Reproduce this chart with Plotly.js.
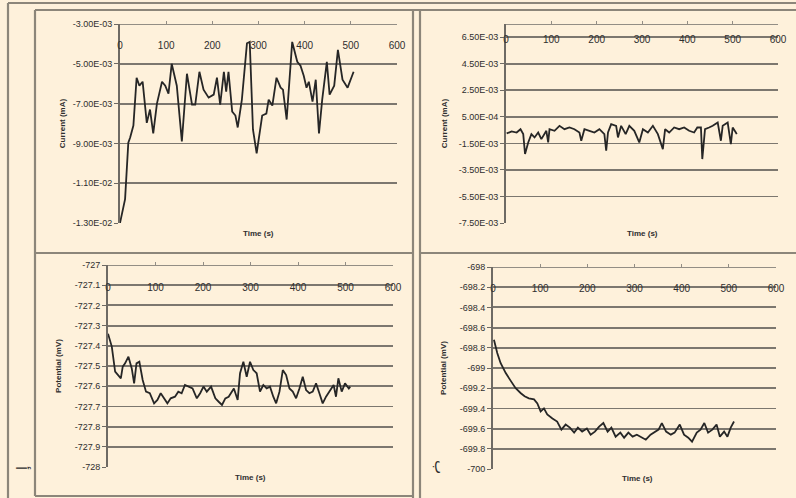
<!DOCTYPE html>
<html><head><meta charset="utf-8">
<script src="https://cdn.plot.ly/plotly-3.0.1.min.js"></script>
<style>html,body{margin:0;padding:0;background:#FEF1DB}#c{width:796px;height:498px}</style>
</head><body><div id="c"></div>
<script>
// Top-left: current (mA) vs time (s)
const tlTime = [0,11,18,22,29,36,42,49,58,65,72,80,91,98,105,112,123,134,145,156,163,172,181,192,203,210,217,225,230,235,243,250,255,264,275,281,288,296,308,317,322,330,339,348,353,361,373,384,391,398,404,409,417,424,431,438,448,454,464,472,482,493,506];
const tlCurrent = [-0.0130,-0.0118,-0.00897,-0.0087,-0.0081,-0.0057,-0.0061,-0.0059,-0.00797,-0.0073,-0.0085,-0.0070,-0.0059,-0.0061,-0.0065,-0.0050,-0.0061,-0.0089,-0.0055,-0.00705,-0.00705,-0.0054,-0.0063,-0.0067,-0.00655,-0.0057,-0.00705,-0.0054,-0.0064,-0.0054,-0.0074,-0.0076,-0.0082,-0.0068,-0.00397,-0.0039,-0.0083,-0.0095,-0.0076,-0.0075,-0.0068,-0.0071,-0.0057,-0.0062,-0.0063,-0.0078,-0.0039,-0.0049,-0.0051,-0.0056,-0.0062,-0.0059,-0.0069,-0.0058,-0.0085,-0.0068,-0.0049,-0.00655,-0.0061,-0.0043,-0.0058,-0.0062,-0.0054];

// Top-right: current (mA) vs time (s)
const trTime = [1.5,12.5,23.5,32,38,42,49,56,63,71,78,89,93,96,107,118,129,140,151,162,166,173,184,195,206,217,221,225,232,243,247,254,264,272,283,294,302,313,324,335,346,351,360,371,382,393,404,415,422,430,433,439,448,456,467,474,478,489,496,500,507,509];
const trCurrent = [-0.00075,-0.0006,-0.00068,-0.00043,-0.0008,-0.0023,-0.00143,-0.0008,-0.00105,-0.00068,-0.00118,-0.00055,-0.00143,-0.00043,-0.00055,-0.000175,-0.00043,-0.0003,-0.00043,-0.00068,-0.0013,-0.00043,-0.00055,-0.00068,-0.00043,-0.0008,-0.00205,-0.00068,-0.00005,-0.000175,-0.00105,-0.000175,-0.0008,-0.000175,-0.00055,-0.00143,-0.00043,-0.00068,-0.000175,-0.0008,-0.00193,-0.00043,-0.00068,-0.0003,-0.00043,-0.0003,-0.00055,-0.00068,-0.0003,-0.0003,-0.00268,-0.00043,-0.0003,-0.000175,0.000075,-0.0013,-0.000175,0.000075,-0.00155,-0.0003,-0.00068,-0.0008];

// Bottom-left: potential (mV) vs time (s)
const blTime = [0,8,15,22,27,31,36,43,50,55,60,66,73,80,88,97,104,111,118,125,132,141,148,155,162,169,178,187,194,201,208,217,226,233,240,247,254,265,273,278,285,292,299,306,313,320,327,334,341,348,354,361,368,375,382,389,396,403,410,417,424,431,438,445,452,459,468,475,480,485,492,499,507,510];
const blPotential = [-727.34,-727.404,-727.528,-727.545,-727.561,-727.503,-727.487,-727.454,-727.512,-727.586,-727.487,-727.479,-727.569,-727.627,-727.635,-727.685,-727.668,-727.635,-727.66,-727.685,-727.66,-727.652,-727.627,-727.635,-727.594,-727.602,-727.611,-727.66,-727.635,-727.602,-727.627,-727.602,-727.66,-727.677,-727.693,-727.66,-727.652,-727.611,-727.668,-727.536,-727.479,-727.553,-727.479,-727.52,-727.536,-727.627,-727.594,-727.611,-727.602,-727.652,-727.685,-727.627,-727.52,-727.545,-727.611,-727.627,-727.66,-727.611,-727.553,-727.619,-727.635,-727.627,-727.586,-727.635,-727.685,-727.652,-727.619,-727.594,-727.652,-727.561,-727.627,-727.586,-727.611,-727.602];

// Bottom-right: potential (mV) vs time (s)
const brTime = [2,9,16,27,38,48,59,67,76,87,94,101,108,115,126,136,145,154,163,172,180,189,199,207,216,225,234,243,251,260,270,278,287,296,305,315,324,334,342,351,358,367,377,385,396,405,414,422,432,440,448,456,465,474,481,490,497,504,511];
const brPotential = [-698.72,-698.851,-698.95,-699.05,-699.13,-699.2,-699.25,-699.28,-699.30,-699.31,-699.35,-699.43,-699.40,-699.46,-699.50,-699.53,-699.61,-699.56,-699.59,-699.64,-699.59,-699.63,-699.60,-699.66,-699.63,-699.58,-699.545,-699.63,-699.59,-699.68,-699.64,-699.69,-699.64,-699.68,-699.66,-699.69,-699.71,-699.66,-699.64,-699.61,-699.545,-699.63,-699.66,-699.64,-699.56,-699.66,-699.69,-699.73,-699.64,-699.61,-699.545,-699.64,-699.61,-699.56,-699.68,-699.63,-699.68,-699.59,-699.53];

// Tick labels
const xTicks = [0,100,200,300,400,500,600];
const tlTickVals = [-0.013,-0.011,-0.009,-0.007,-0.005,-0.003];
const tlTickText = ['-1.30E-02','-1.10E-02','-9.00E-03','-7.00E-03','-5.00E-03','-3.00E-03'];
const trTickVals = [-0.0075,-0.0055,-0.0035,-0.0015,0.0005,0.0025,0.0045,0.0065];
const trTickText = ['-7.50E-03','-5.50E-03','-3.50E-03','-1.50E-03','5.00E-04','2.50E-03','4.50E-03','6.50E-03'];
const blTickVals = [-728,-727.9,-727.8,-727.7,-727.6,-727.5,-727.4,-727.3,-727.2,-727.1,-727];
const blTickText = ['-728','-727.9','-727.8','-727.7','-727.6','-727.5','-727.4','-727.3','-727.2','-727.1','-727'];
const brTickVals = [-700,-699.8,-699.6,-699.4,-699.2,-699,-698.8,-698.6,-698.4,-698.2,-698];
const brTickText = ['-700','-699.8','-699.6','-699.4','-699.2','-699','-698.8','-698.6','-698.4','-698.2','-698'];

const W = 796, H = 498;
const px = v => v / W, py = v => 1 - v / H;
const BG = '#FEF1DB', INK = '#262626', GRID = '#7c776f', FRAME = '#8c867a', TXT = '#2e2e2e';
const FONT = 'Liberation Sans, Arial, sans-serif';

function line(x, y, xa, ya) {
  return {x: x, y: y, xaxis: xa, yaxis: ya, type: 'scatter', mode: 'lines',
          line: {color: INK, width: 1.8}, hoverinfo: 'skip', showlegend: false};
}
const data = [
  line(tlTime, tlCurrent, 'x', 'y'),
  line(trTime, trCurrent, 'x2', 'y2'),
  line(blTime, blPotential, 'x3', 'y3'),
  line(brTime, brPotential, 'x4', 'y4')
];

function xax(d0, d1, pos, stand) {
  return {domain: [px(d0), px(d1)], range: [0, 600], tickvals: xTicks, anchor: 'free', position: py(pos),
          side: 'bottom', showline: true, linecolor: '#938e85', linewidth: 1.2, ticks: 'inside', ticklen: 3,
          tickcolor: '#938e85', showgrid: false, zeroline: false, ticklabelstandoff: stand,
          tickfont: {family: FONT, size: 10, color: TXT}, fixedrange: true};
}
function yax(anchor, t, b, range, vals, text, title, standoff) {
  return {domain: [py(b), py(t)], range: range, anchor: anchor, tickvals: vals, ticktext: text,
          showline: true, linecolor: '#6e6a64', linewidth: 2, ticks: 'outside', ticklen: 4, tickcolor: '#6e6a64',
          showgrid: true, gridcolor: GRID, gridwidth: 1.8, zeroline: false,
          tickfont: {family: FONT, size: 9, color: TXT},
          title: {text: title, standoff: standoff, font: {family: FONT, size: 8, color: TXT, weight: 'bold'}},
          fixedrange: true};
}

const frame = (x0, y0, x1, y1) => ({type: 'line', xref: 'paper', yref: 'paper', x0: px(x0), y0: py(y0), x1: px(x1), y1: py(y1),
  line: {color: FRAME, width: 2.2}, layer: 'above'});

const shapes = [
  frame(8, 3, 796, 3), frame(8, 3, 8, 498),
  frame(35, 10, 796, 10), frame(35, 10, 35, 496), frame(35, 496, 413, 496),
  frame(413, 10, 413, 498), frame(420, 10, 420, 498),
  frame(35, 253, 413, 253), frame(420, 253, 796, 253)
];

const ann = (text, x, y, extra) => Object.assign({text: text, xref: 'paper', yref: 'paper', x: px(x), y: py(y),
  showarrow: false, xanchor: 'center', yanchor: 'middle', font: {family: FONT, size: 8, color: TXT, weight: 'bold'}}, extra || {});

const layout = {
  width: W, height: H, margin: {l: 0, r: 0, t: 0, b: 0},
  paper_bgcolor: BG, plot_bgcolor: BG, showlegend: false,
  xaxis: xax(120, 397, 24, 12),
  yaxis: yax('x', 24, 223, [-0.013, -0.003], tlTickVals, tlTickText, 'Current (mA)', 6),
  xaxis2: xax(506, 778, 24, 6),
  yaxis2: yax('x2', 24, 223, [-0.0075, 0.0075], trTickVals, trTickText, 'Current (mA)', 10),
  xaxis3: xax(108, 393, 265, 13),
  yaxis3: yax('x3', 265, 467, [-728, -727], blTickVals, blTickText, 'Potential (mV)', 12),
  xaxis4: xax(493, 776, 267, 12),
  yaxis4: yax('x4', 267, 469, [-700, -698], brTickVals, brTickText, 'Potential (mV)', 12),
  shapes: shapes,
  annotations: [
    ann('Time (s)', 258, 233), ann('Time (s)', 642, 233),
    ann('Time (s)', 250, 477), ann('Time (s)', 637, 478),
    ann('أ', 22, 468, {textangle: 90, font: {family: 'DejaVu Sans', size: 15, color: TXT}}),
    ann('ب', 440, 467, {textangle: 90, font: {family: 'DejaVu Sans', size: 15, color: TXT}})
  ]
};

Plotly.newPlot('c', data, layout, {staticPlot: true, displayModeBar: false});
</script></body></html>
